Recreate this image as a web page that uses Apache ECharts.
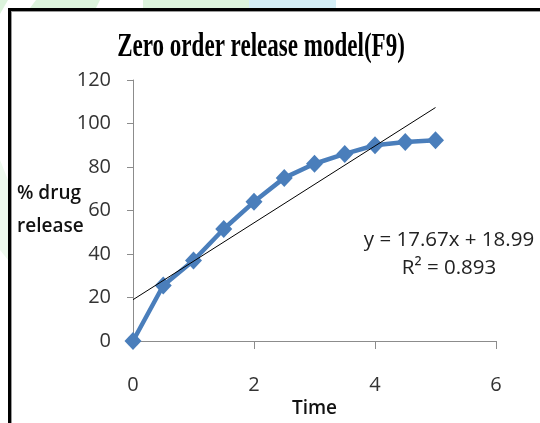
<!DOCTYPE html>
<html>
<head>
<meta charset="utf-8">
<script src="https://cdn.jsdelivr.net/npm/echarts@6/dist/echarts.min.js"></script>
<style>
html,body{margin:0;padding:0;background:#fff;}
#c{width:540px;height:423px;}
</style>
</head>
<body>
<div id="c"></div>
<script>
var titleText = 'Zero order release model(F9)';
var xName = 'Time';
var yName = '% drug\nrelease';
var timePoints = [0, 0.5, 1, 1.5, 2, 2.5, 3, 3.5, 4, 4.5, 5];
var releaseValues = [0, 25.5, 37, 51.5, 64, 75, 81.5, 86, 90, 91.5, 92.3];
var trendSlope = 17.67;
var trendIntercept = 18.99;
var trendRange = [0, 5];
var r2Value = 0.893;
var xTicks = {min: 0, max: 6, interval: 2};
var yTicks = {min: 0, max: 120, interval: 20};

var seriesData = timePoints.map(function (t, i) { return [t, releaseValues[i]]; });
var trendData = trendRange.map(function (t) { return [t, +(trendSlope * t + trendIntercept).toFixed(2)]; });
var eqText = 'y = ' + trendSlope + 'x + ' + trendIntercept;
var r2Text = 'R\u00B2 = ' + r2Value;

var chart = echarts.init(document.getElementById('c'), null, {renderer: 'canvas'});
var sans = '"Open Sans", "Noto Sans", sans-serif';
chart.setOption({
  animation: false,
  backgroundColor: '#ffffff',
  grid: {left: 133, right: 44, top: 80, bottom: 82},
  xAxis: {
    type: 'value', min: xTicks.min, max: xTicks.max, interval: xTicks.interval,
    name: xName, nameLocation: 'middle', nameGap: 58, nameMoveOverlap: false,
    nameTextStyle: {fontFamily: sans, fontSize: 19, fontWeight: 600, color: '#111'},
    axisLine: {show: true, lineStyle: {color: '#8c8c8c', width: 1}},
    axisTick: {show: true, length: 8, lineStyle: {color: '#8c8c8c'}},
    axisLabel: {fontFamily: sans, fontSize: 20, color: '#333', margin: 34},
    splitLine: {show: false}
  },
  yAxis: {
    type: 'value', min: yTicks.min, max: yTicks.max, interval: yTicks.interval,
    name: yName, nameLocation: 'middle', nameRotate: 0, nameGap: 116, nameMoveOverlap: false,
    nameTextStyle: {fontFamily: sans, fontSize: 19, fontWeight: 600, color: '#111', align: 'left', lineHeight: 33, padding: [14, 0, 0, 0]},
    axisLine: {show: true, lineStyle: {color: '#8c8c8c', width: 1}},
    axisTick: {show: true, length: 6, lineStyle: {color: '#8c8c8c'}},
    axisLabel: {fontFamily: sans, fontSize: 20, color: '#333', margin: 22},
    splitLine: {show: false}
  },
  series: [
    {
      type: 'line', data: seriesData, symbol: 'diamond', symbolSize: [17, 18],
      lineStyle: {color: '#4a7ebb', width: 4.5},
      itemStyle: {color: '#4a7ebb'}, z: 3
    },
    {
      type: 'line', data: trendData, symbol: 'none',
      lineStyle: {color: '#000', width: 1}, z: 4
    }
  ],
  graphic: [
    {type: 'polygon', silent: true, z: -10, shape: {points: [[0,0],[8,0],[0,14]]}, style: {fill: '#dcf3dc'}},
    {type: 'polygon', silent: true, z: -10, shape: {points: [[30,8],[36,0],[100,0],[96,8]]}, style: {fill: '#dcf3dc'}},
    {type: 'rect', silent: true, z: -10, shape: {x: 143, y: 0, width: 106, height: 8}, style: {fill: '#dcf3dc'}},
    {type: 'rect', silent: true, z: -10, shape: {x: 249, y: 0, width: 87, height: 8}, style: {fill: '#d5eef6'}},
    {type: 'polygon', silent: true, z: -10, shape: {points: [[0,160],[8,180],[8,260],[0,250]]}, style: {fill: '#eef9ee'}},
    {type: 'rect', silent: true, z: 10, shape: {x: 8, y: 8, width: 540, height: 3}, style: {fill: '#000'}},
    {type: 'rect', silent: true, z: 10, shape: {x: 11, y: 11, width: 540, height: 1}, style: {fill: '#9a9a9a'}},
    {type: 'rect', silent: true, z: 10, shape: {x: 8, y: 8, width: 3, height: 420}, style: {fill: '#000'}},
    {type: 'rect', silent: true, z: 10, shape: {x: 11, y: 11, width: 1, height: 420}, style: {fill: '#9a9a9a'}},
    {type: 'text', x: 261, y: 47, scaleX: 0.72, scaleY: 1.08, z: 10,
      style: {text: titleText, font: 'bold 32px "Liberation Serif", "Times New Roman", serif', fill: '#000', textAlign: 'center', textVerticalAlign: 'middle'}},
    {type: 'text', x: 449, y: 240, z: 10,
      style: {text: eqText, font: '20.5px ' + sans, fill: '#222', textAlign: 'center', textVerticalAlign: 'middle'}},
    {type: 'text', x: 449, y: 268, z: 10,
      style: {text: r2Text, font: '20.5px ' + sans, fill: '#222', textAlign: 'center', textVerticalAlign: 'middle'}}
  ]
});
</script>
</body>
</html>
